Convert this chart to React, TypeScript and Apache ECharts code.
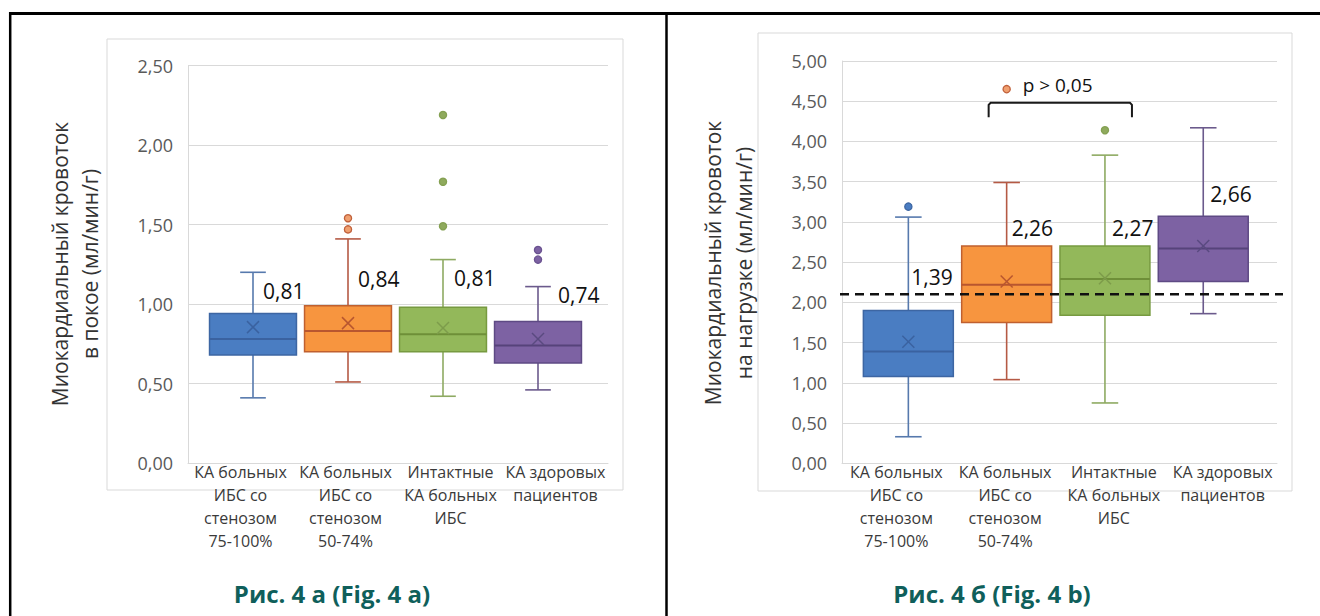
import React, { useEffect, useRef } from "react";
import * as echarts from "echarts";

// ---------- DATA ----------
const categories = [
  "КА больных\nИБС со\nстенозом\n75-100%",
  "КА больных\nИБС со\nстенозом\n50-74%",
  "Интактные\nКА больных\nИБС",
  "КА здоровых\nпациентов",
];
const yTicksA = { min: 0, max: 2.5, step: 0.5 };
const yTicksB = { min: 0, max: 5, step: 0.5 };

// [lower whisker, Q1, median, Q3, upper whisker]
const boxesA = [
  [0.41, 0.68, 0.78, 0.94, 1.2],
  [0.51, 0.7, 0.83, 0.99, 1.41],
  [0.42, 0.7, 0.81, 0.98, 1.28],
  [0.46, 0.63, 0.74, 0.89, 1.11],
];
const meansA = [0.855, 0.88, 0.85, 0.78];
const outliersA = [[], [1.47, 1.54], [1.49, 1.77, 2.19], [1.28, 1.34]];
const labelsA = ["0,81", "0,84", "0,81", "0,74"];

const boxesB = [
  [0.33, 1.08, 1.39, 1.9, 3.06],
  [1.04, 1.75, 2.22, 2.7, 3.49],
  [0.75, 1.84, 2.29, 2.7, 3.83],
  [1.86, 2.26, 2.67, 3.07, 4.17],
];
const meansB = [1.51, 2.26, 2.3, 2.7];
const outliersB = [[3.19], [4.65], [4.14], []];
const labelsB = ["1,39", "2,26", "2,27", "2,66"];
const thresholdB = 2.1;
const pLabel = "p > 0,05";
const bracketGroups = [1, 2];
const bracketLevels = [4.48, 4.3]; // bar level, tick end
const pLabelLevel = 4.7;

const titleA = "Миокардиальный кровоток\nв покое (мл/мин/г)";
const titleB = "Миокардиальный кровоток\nна нагрузке (мл/мин/г)";
const captionA = "Рис. 4 а (Fig. 4 a)";
const captionB = "Рис. 4 б (Fig. 4 b)";

// ---------- STYLE ----------
const FONT = '"Open Sans", "Noto Sans", sans-serif';
const palette = [
  { fill: "#4a7dc2", border: "#3d66a3", whisker: "#5679ad", median: "#3a62a0", mean: "#3a62a0", out: "#4a7dc2", outStroke: "#3d66a3" },
  { fill: "#f7953f", border: "#c0602f", whisker: "#b55a45", median: "#b8562f", mean: "#b8562f", out: "#f0a070", outStroke: "#c0603a" },
  { fill: "#93b85a", border: "#779a40", whisker: "#8eaa62", median: "#6e8f38", mean: "#7d9c4b", out: "#8faa5d", outStroke: "#84a052" },
  { fill: "#7d62a3", border: "#5e4a84", whisker: "#6b5a8c", median: "#56437a", mean: "#5a4a80", out: "#7d62a3", outStroke: "#6a5290" },
];
const labelOffsetsA = [[10, -23], [10, -27], [11, -29], [20, -27]];
const labelOffsetsB = [[3, -33], [5, -18], [7, -18], [7, -22]];

const fmt = (v: number) => v.toFixed(2).replace(".", ",");

function boxRender(params: any, api: any) {
  const i = api.value(0);
  const c = palette[i];
  const pMin = api.coord([i, api.value(1)]);
  const pQ1 = api.coord([i, api.value(2)]);
  const pMed = api.coord([i, api.value(3)]);
  const pQ3 = api.coord([i, api.value(4)]);
  const pMax = api.coord([i, api.value(5)]);
  const pMean = api.coord([i, api.value(6)]);
  const band = api.size([1, 0])[0];
  const bw = band * 0.915;
  const cap = band * 0.27;
  const x = pMed[0];
  const wl = { stroke: c.whisker, lineWidth: 1.6 };
  const m = 6;
  return {
    type: "group",
    children: [
      { type: "line", shape: { x1: x, y1: pMax[1], x2: x, y2: pQ3[1] }, style: wl },
      { type: "line", shape: { x1: x, y1: pQ1[1], x2: x, y2: pMin[1] }, style: wl },
      { type: "line", shape: { x1: x - cap / 2, y1: pMax[1], x2: x + cap / 2, y2: pMax[1] }, style: wl },
      { type: "line", shape: { x1: x - cap / 2, y1: pMin[1], x2: x + cap / 2, y2: pMin[1] }, style: wl },
      {
        type: "rect",
        shape: { x: x - bw / 2, y: pQ3[1], width: bw, height: pQ1[1] - pQ3[1] },
        style: { fill: c.fill, stroke: c.border, lineWidth: 1.5 },
      },
      { type: "line", shape: { x1: x - bw / 2, y1: pMed[1], x2: x + bw / 2, y2: pMed[1] }, style: { stroke: c.median, lineWidth: 2 } },
      { type: "line", shape: { x1: x - m, y1: pMean[1] - m, x2: x + m, y2: pMean[1] + m }, style: { stroke: c.mean, lineWidth: 1.5 } },
      { type: "line", shape: { x1: x - m, y1: pMean[1] + m, x2: x + m, y2: pMean[1] - m }, style: { stroke: c.mean, lineWidth: 1.5 } },
    ],
  };
}

function outlierRender(params: any, api: any) {
  const i = api.value(0);
  const p = api.coord([i, api.value(1)]);
  const c = palette[i];
  return {
    type: "circle",
    shape: { cx: p[0], cy: p[1], r: 3.6 },
    style: { fill: c.out, stroke: c.outStroke, lineWidth: 1.3 },
  };
}

function labelRender(labels: string[], offsets: number[][]) {
  return (params: any, api: any) => {
    const i = api.value(0);
    const p = api.coord([i, api.value(1)]);
    const o = offsets[params.dataIndex];
    return {
      type: "text",
      x: p[0] + o[0],
      y: p[1] + o[1],
      style: {
        text: labels[params.dataIndex],
        font: `21px ${FONT}`,
        fill: "#111",
        align: "left",
        verticalAlign: "middle",
      },
    };
  };
}

function buildChart(
  gridIdx: number,
  boxes: number[][],
  means: number[],
  outliers: number[][],
  labels: string[],
  offsets: number[][]
) {
  const boxGrid = gridIdx + 1;
  return [
    {
      type: "custom",
      xAxisIndex: boxGrid,
      yAxisIndex: boxGrid,
      renderItem: boxRender,
      encode: { x: 0, y: [1, 2, 3, 4, 5, 6] },
      data: boxes.map((b, i) => [i, ...b, means[i]]),
      z: 3,
    },
    {
      type: "custom",
      xAxisIndex: boxGrid,
      yAxisIndex: boxGrid,
      renderItem: outlierRender,
      encode: { x: 0, y: 1 },
      data: outliers.flatMap((arr, i) => arr.map((v) => [i, v])),
      z: 4,
    },
    {
      type: "custom",
      xAxisIndex: boxGrid,
      yAxisIndex: boxGrid,
      renderItem: labelRender(labels, offsets),
      encode: { x: 0, y: 1 },
      data: boxes.map((b, i) => [i, b[3]]),
      z: 5,
    },
  ];
}

function bgAxes(gridIndex: number, t: { min: number; max: number; step: number }) {
  return {
    x: {
      type: "category",
      gridIndex,
      data: categories,
      boundaryGap: true,
      axisLine: { show: true, lineStyle: { color: "#d9d9d9", width: 1 } },
      axisTick: { show: false },
      axisLabel: {
        interval: 0,
        color: "#3a3a3a",
        fontSize: 16,
        fontFamily: FONT,
        lineHeight: 23,
        margin: -3,
      },
    },
    y: {
      type: "value",
      gridIndex,
      min: t.min,
      max: t.max,
      interval: t.step,
      axisLine: { show: true, lineStyle: { color: "#d9d9d9", width: 1 } },
      axisTick: { show: false },
      axisLabel: { formatter: fmt, color: "#595959", fontSize: 18, fontFamily: FONT, margin: 15 },
      splitLine: { show: true, lineStyle: { color: "#d9d9d9", width: 1 } },
    },
  };
}

export default function App() {
  const ref = useRef<HTMLDivElement>(null);
  useEffect(() => {
    document.body.style.margin = "0";
    if (!ref.current) return;
    const chart = echarts.init(ref.current, undefined, { renderer: "svg" });
    const a = bgAxes(0, yTicksA);
    const b = bgAxes(2, yTicksB);
    const hiddenX = (gridIndex: number) => ({ type: "category", gridIndex, data: categories, show: false, boundaryGap: true });
    const hiddenY = (gridIndex: number, t: any) => ({ type: "value", gridIndex, min: t.min, max: t.max, interval: t.step, show: false });

    const option: any = {
      animation: false,
      backgroundColor: "#ffffff",
      textStyle: { fontFamily: FONT },
      grid: [
        { left: 188, top: 65.7, width: 420, height: 397.3 },
        { left: 205.5, top: 65.7, width: 380, height: 397.3 },
        { left: 842, top: 61, width: 435, height: 402.3 },
        { left: 859.2, top: 61, width: 393.2, height: 402.3 },
      ],
      xAxis: [a.x, hiddenX(1), b.x, hiddenX(3)],
      yAxis: [a.y, hiddenY(1, yTicksA), b.y, hiddenY(3, yTicksB)],
      series: [
        ...buildChart(0, boxesA, meansA, outliersA, labelsA, labelOffsetsA),
        ...buildChart(2, boxesB, meansB, outliersB, labelsB, labelOffsetsB),
        {
          type: "custom",
          xAxisIndex: 2,
          yAxisIndex: 2,
          data: [[0, thresholdB]],
          encode: { x: 0, y: 1 },
          renderItem: (params: any, api: any) => {
            const cs = params.coordSys;
            const y = api.coord([0, api.value(1)])[1];
            return {
              type: "line",
              shape: { x1: cs.x - 2, y1: y, x2: cs.x + cs.width + 6, y2: y },
              style: { stroke: "#111", lineWidth: 2.5, lineDash: [9, 6] },
            };
          },
          z: 6,
        },
        {
          type: "custom",
          xAxisIndex: 3,
          yAxisIndex: 3,
          data: [[bracketGroups[0], bracketGroups[1], bracketLevels[0], bracketLevels[1], pLabelLevel]],
          encode: { x: [0, 1], y: [2, 3, 4] },
          renderItem: (params: any, api: any) => {
            const l = api.coord([api.value(0), api.value(2)]);
            const r = api.coord([api.value(1), api.value(2)]);
            const tEnd = api.coord([api.value(0), api.value(3)])[1];
            const tp = api.coord([api.value(0), api.value(4)]);
            const xl = l[0] - 18;
            const xr = r[0] + 27;
            return {
              type: "group",
              children: [
                {
                  type: "polyline",
                  shape: { points: [[xl, tEnd], [xl, l[1] + 2], [xl + 2, l[1]], [xr - 2, l[1]], [xr, l[1] + 2], [xr, tEnd]] },
                  style: { stroke: "#1a1a1a", lineWidth: 2, fill: "none" },
                },
                {
                  type: "text",
                  x: tp[0] + 16,
                  y: tp[1],
                  style: { text: pLabel, font: `19px ${FONT}`, fill: "#111", align: "left", verticalAlign: "middle" },
                },
              ],
            };
          },
          z: 6,
        },
      ],
      graphic: [
        { type: "rect", shape: { x: 107, y: 39, width: 516, height: 451 }, style: { fill: "none", stroke: "#d9d9d9", lineWidth: 1 }, z: 0 },
        { type: "rect", shape: { x: 758, y: 33, width: 534, height: 458 }, style: { fill: "none", stroke: "#d9d9d9", lineWidth: 1 }, z: 0 },
        { type: "line", shape: { x1: 9, y1: 13.5, x2: 1320, y2: 13.5 }, style: { stroke: "#000", lineWidth: 3 } },
        { type: "line", shape: { x1: 10.2, y1: 12, x2: 10.2, y2: 616 }, style: { stroke: "#000", lineWidth: 2.5 } },
        { type: "line", shape: { x1: 666.5, y1: 12, x2: 666.5, y2: 616 }, style: { stroke: "#000", lineWidth: 2.5 } },
        {
          type: "text", x: 75, y: 264, rotation: Math.PI / 2,
          style: { text: titleA, font: `21px ${FONT}`, fill: "#333", align: "center", verticalAlign: "middle", lineHeight: 30 },
        },
        {
          type: "text", x: 728, y: 263, rotation: Math.PI / 2,
          style: { text: titleB, font: `21px ${FONT}`, fill: "#333", align: "center", verticalAlign: "middle", lineHeight: 31 },
        },
        {
          type: "text", x: 332, y: 593,
          style: { text: captionA, font: `bold 24px ${FONT}`, fill: "#0f5f5b", align: "center", verticalAlign: "middle" },
        },
        {
          type: "text", x: 992, y: 593,
          style: { text: captionB, font: `bold 24px ${FONT}`, fill: "#0f5f5b", align: "center", verticalAlign: "middle" },
        },
      ],
    };
    chart.setOption(option);
    return () => chart.dispose();
  }, []);
  return <div ref={ref} style={{ width: 1320, height: 616 }} />;
}
